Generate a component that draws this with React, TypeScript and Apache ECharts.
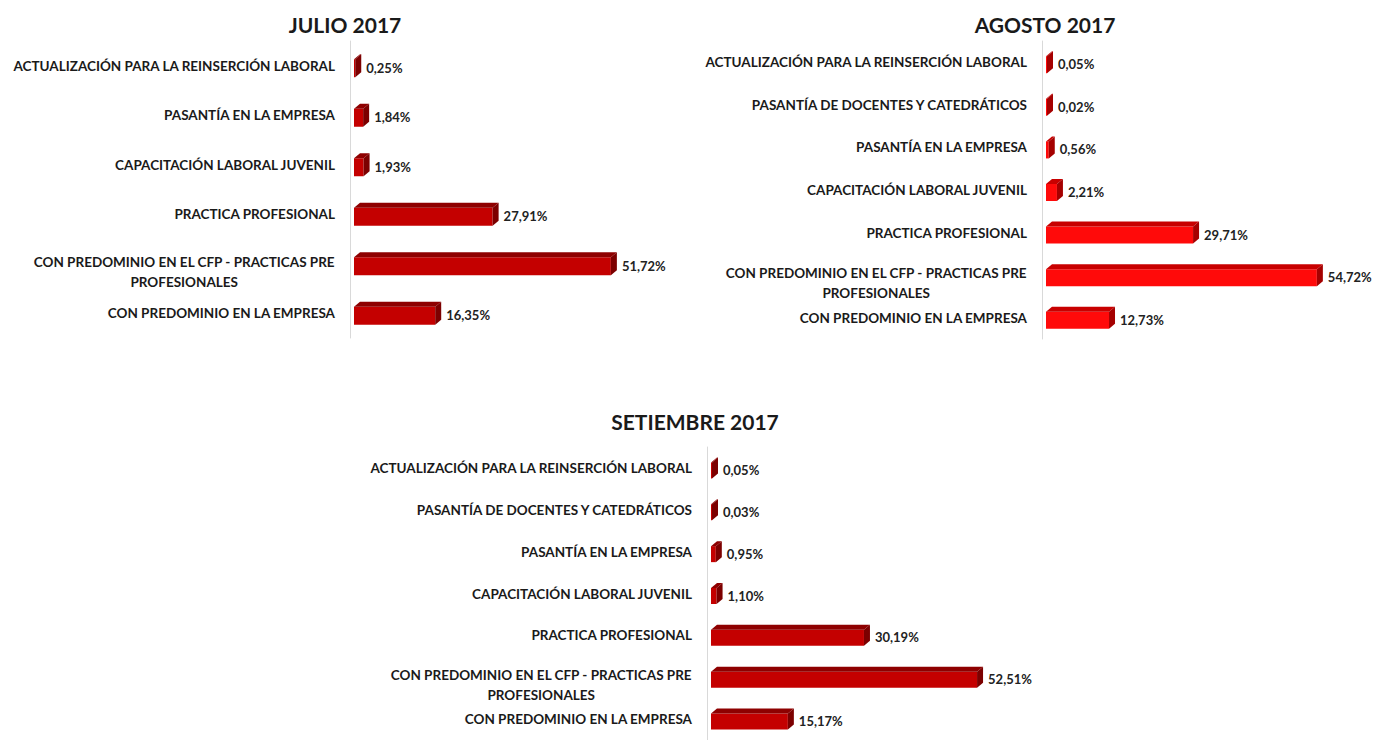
import React, { useEffect, useRef } from "react";
import * as echarts from "echarts";

const titles = ["JULIO 2017", "AGOSTO 2017", "SETIEMBRE 2017"];

const categoriesJul = [
  "ACTUALIZACIÓN PARA LA REINSERCIÓN LABORAL",
  "PASANTÍA EN LA EMPRESA",
  "CAPACITACIÓN LABORAL JUVENIL",
  "PRACTICA PROFESIONAL",
  "CON PREDOMINIO EN EL CFP - PRACTICAS PRE\nPROFESIONALES",
  "CON PREDOMINIO EN LA EMPRESA",
];
const valuesJul = [0.25, 1.84, 1.93, 27.91, 51.72, 16.35];

const categoriesAgo = [
  "ACTUALIZACIÓN PARA LA REINSERCIÓN LABORAL",
  "PASANTÍA DE DOCENTES Y CATEDRÁTICOS",
  "PASANTÍA EN LA EMPRESA",
  "CAPACITACIÓN LABORAL JUVENIL",
  "PRACTICA PROFESIONAL",
  "CON PREDOMINIO EN EL CFP - PRACTICAS PRE\nPROFESIONALES",
  "CON PREDOMINIO EN LA EMPRESA",
];
const valuesAgo = [0.05, 0.02, 0.56, 2.21, 29.71, 54.72, 12.73];

const categoriesSet = [
  "ACTUALIZACIÓN PARA LA REINSERCIÓN LABORAL",
  "PASANTÍA DE DOCENTES Y CATEDRÁTICOS",
  "PASANTÍA EN LA EMPRESA",
  "CAPACITACIÓN LABORAL JUVENIL",
  "PRACTICA PROFESIONAL",
  "CON PREDOMINIO EN EL CFP - PRACTICAS PRE\nPROFESIONALES",
  "CON PREDOMINIO EN LA EMPRESA",
];
const valuesSet = [0.05, 0.03, 0.95, 1.1, 30.19, 52.51, 15.17];

const FONT = "Lato, 'Open Sans', sans-serif";

const darkRed = { front: "#c40000", top: "#8e0000", side: "#7c0000" };
const brightRed = { front: "#ff0a0a", top: "#c80000", side: "#a50000" };

function fmt(v: number) {
  return v.toFixed(2).replace(".", ",") + "%";
}

function makeRender(colors: any, barH: number) {
  return (params: any, api: any) => {
    const v = api.value(0);
    const ci = api.value(1);
    const base = api.coord([0, ci]);
    const end = api.coord([v, ci]);
    const dx = 6;
    const dy = 5;
    const gap = 4;
    const x0 = base[0] + gap;
    const x1 = Math.max(end[0] + gap, x0 + 1);
    const cy = base[1];
    const top = cy - barH / 2;
    const bottom = cy + barH / 2;
    return {
      type: "group",
      children: [
        {
          type: "rect",
          shape: { x: x0, y: top + dy, width: x1 - x0, height: bottom - top - dy },
          style: { fill: colors.front },
        },
        {
          type: "polygon",
          shape: { points: [[x0, top + dy], [x0 + dx, top], [x1 + dx, top], [x1, top + dy]] },
          style: { fill: colors.top },
        },
        {
          type: "polygon",
          shape: { points: [[x1, top + dy], [x1 + dx, top], [x1 + dx, bottom - dy], [x1, bottom]] },
          style: { fill: colors.side },
        },
        {
          type: "text",
          style: {
            text: fmt(v),
            x: x1 + dx + 5,
            y: cy + 2,
            textAlign: "left",
            textVerticalAlign: "middle",
            fill: "#222",
            font: `bold 13px ${FONT}`,
          },
        },
      ],
    };
  };
}

function labelFormatter(value: string) {
  if (value.indexOf("\n") >= 0) {
    const parts = value.split("\n");
    return "{s| }\n" + parts.map((p) => `{c|${p}}`).join("\n");
  }
  return value;
}

const axisLabelCommon = {
  fontFamily: FONT,
  fontWeight: "bold",
  fontSize: 13.5,
  color: "#1a1a1a",
  lineHeight: 20,
  formatter: labelFormatter,
  rich: {
    s: { lineHeight: 16, fontSize: 6 },
    c: {
      align: "center",
      fontFamily: FONT,
      fontWeight: "bold",
      fontSize: 13.5,
      color: "#1a1a1a",
      lineHeight: 20,
    },
  },
};

export default function App() {
  const ref = useRef<HTMLDivElement>(null);
  useEffect(() => {
    if (!ref.current) return;
    const chart = echarts.init(ref.current, null, { renderer: "svg" });
    const grids = [
      { left: 350, top: 41, width: 298, height: 297 },
      { left: 1042, top: 41, width: 297, height: 298 },
      { left: 707, top: 447, width: 304, height: 298 },
    ];
    const cats = [categoriesJul, categoriesAgo, categoriesSet];
    const vals = [valuesJul, valuesAgo, valuesSet];
    const colors = [darkRed, brightRed, darkRed];
    const barHs = [23, 22, 21];
    const option: any = {
      animation: false,
      backgroundColor: "#ffffff",
      title: [
        { text: titles[0], left: 340, top: 9, textAlign: "center" },
        { text: titles[1], left: 1040, top: 9, textAlign: "center" },
        { text: titles[2], left: 690, top: 406, textAlign: "center" },
      ].map((t) => ({
        ...t,
        textStyle: { fontFamily: FONT, fontWeight: "bold", fontSize: 21, color: "#1a1a1a" },
      })),
      grid: grids,
      xAxis: grids.map((_, i) => ({
        type: "value",
        gridIndex: i,
        min: 0,
        max: 60,
        show: false,
        splitLine: { show: false },
      })),
      yAxis: grids.map((_, i) => ({
        type: "category",
        gridIndex: i,
        data: cats[i],
        inverse: true,
        axisLine: { show: true, lineStyle: { color: "#d9d9d9", width: 1 } },
        axisTick: { show: false },
        axisLabel: { ...axisLabelCommon, margin: 15 },
      })),
      series: grids.map((_, i) => ({
        type: "custom",
        xAxisIndex: i,
        yAxisIndex: i,
        encode: { x: 0, y: 1 },
        data: vals[i].map((v, j) => [v, cats[i][j]]),
        renderItem: makeRender(colors[i], barHs[i]),
      })),
    };
    chart.setOption(option);
    return () => chart.dispose();
  }, []);
  return (
    <div
      ref={ref}
      style={{ position: "fixed", left: 0, top: 0, width: 1375, height: 740, background: "#fff" }}
    />
  );
}
